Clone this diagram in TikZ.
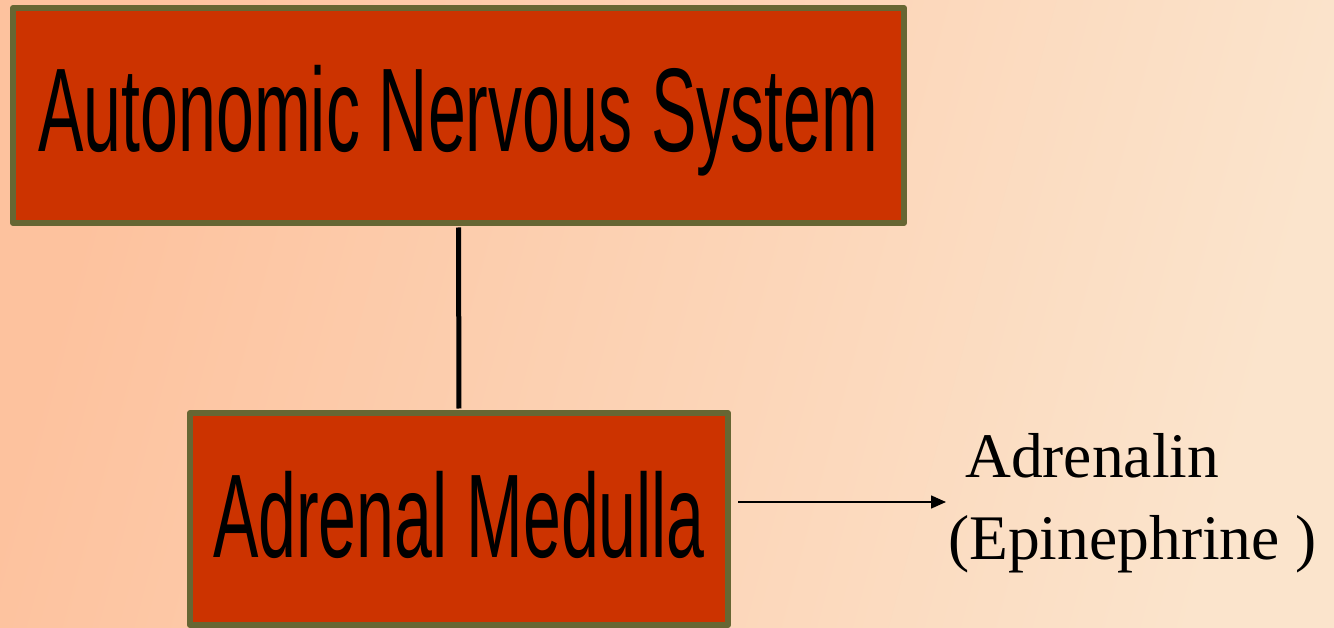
\documentclass[tikz,border=0pt]{standalone}
\usepackage{fontspec}
\usepackage{graphicx}
\usetikzlibrary{arrows.meta}
\newfontfamily\boxfont{Liberation Sans}
\newfontfamily\labelfont{Liberation Serif}
\definecolor{bgdark}{RGB}{253,194,158}
\definecolor{bglight}{RGB}{251,228,204}
\definecolor{boxfill}{RGB}{204,51,0}
\definecolor{boxline}{RGB}{102,102,51}
\tikzset{
  organ/.style={draw=boxline, fill=boxfill, line width=6pt, line join=round,
    inner sep=0pt, text height=85pt, align=center,
    font=\boxfont\fontsize{119}{119}\selectfont},
  link/.style={line width=5pt, black, shorten <=1.5pt, shorten >=1.5pt},
  release/.style={line width=1.6pt, black, shorten <=7pt,
    -{Triangle[length=15pt,width=13pt]}},
  hormone/.style={inner sep=0pt, anchor=base west,
    font=\labelfont\fontsize{63.5}{63.5}\selectfont}
}
\begin{document}
\begin{tikzpicture}[x=1pt, y=-1pt]
  % background
  \shade[left color=bgdark, right color=bglight, shading angle=75]
    (0,0) rectangle (1334,628);
  \useasboundingbox (0,0) rectangle (1334,628);

  % boxes
  \node[organ, minimum width=891pt, minimum height=215pt, text depth=12pt]
    (ans) at (458.5,115.5) {\scalebox{0.572}[1]{Autonomic Nervous System}};
  \node[organ, minimum width=538pt, minimum height=212pt, text depth=9pt]
    (adm) at (459,519) {\scalebox{0.572}[1]{Adrenal Medulla}};

  % connectors
  \draw[link] (ans.south) -- (adm.north);
  \coordinate (tip) at (946,502);
  \draw[release] (adm.east |- tip) -- (tip);

  % product labels
  \node[hormone] (adr) at (965,477) {Adrenalin};
  \node[hormone] (epi) at (948,559) {(Epinephrine )};
\end{tikzpicture}
\end{document}
